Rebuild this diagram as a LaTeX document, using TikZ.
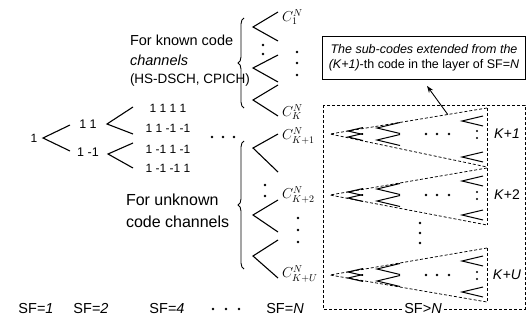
\documentclass[tikz,border=0pt]{standalone}
\usepackage{fontspec}
\setmainfont{Liberation Sans}
\usetikzlibrary{calc,decorations.pathreplacing,arrows.meta}
\newcommand\fs[1]{\fontsize{#1}{#1}\selectfont}
\tikzset{
  fk/.style={line width=1.1pt},
  dsh/.style={line width=0.75pt, dash pattern=on 3pt off 2pt},
  lbl/.style={inner sep=0pt, outer sep=0pt},
  brc/.style={line width=0.9pt, decorate, decoration={brace, amplitude=6pt}},
  vf/.pic={\draw[line width=1pt] (1,-1) -- (0,0) -- (1,1);},
}
\newcommand\subgrp[5]{%
  \coordinate (#1a) at (330,#2);
  \coordinate (#1t) at (487,#3);
  \coordinate (#1b) at (487,#4);
  \draw[dsh] (#1t) -- (#1a) -- (#1b);
  \pic[xscale=15,yscale=3.5] at (348,{#2-3}) {vf};
  \pic[xscale=15,yscale=3.5] at (348,{#2+3}) {vf};
  \pic[xscale=23,yscale=5.5] at (377,{#2-6}) {vf};
  \pic[xscale=23,yscale=5.5] at (377,{#2+6}) {vf};
  \foreach \dx in {426,437,449} \fill (\dx,#2) circle (1.3pt);
  \pic[xscale=21,yscale=5] at (462,{#3+13}) {vf};
  \pic[xscale=21,yscale=5] at (462,{#4-10}) {vf};
  \fill (477,{#2-3}) circle (1.1pt) (477,{#2+4}) circle (1.1pt);
  \node[lbl, font=\fs{14}] (#1l) at (507,#2) {#5};
}
\begin{document}
\begin{tikzpicture}[x=1pt,y=-1pt]
\useasboundingbox (0,0) rectangle (529,321);

% ---- root tree ----
\node[lbl, font=\fs{12}] (r) at (34,138) {1};
\coordinate (a0) at (43,138);
\coordinate (a0u) at (70,125);
\coordinate (a0d) at (70,151);
\draw[fk] (a0u) -- (a0) -- (a0d);
\node[lbl, font=\fs{12.5}] (n11) at (88,124) {1 1};
\node[lbl, font=\fs{12.5}] (n12) at (88,152) {1 -1};
\coordinate (a1) at (107,124);
\coordinate (a1u) at (133,107);
\coordinate (a1d) at (133,134);
\draw[fk] (a1u) -- (a1) -- (a1d);
\coordinate (a2) at (108,154);
\coordinate (a2u) at (133,143);
\coordinate (a2d) at (133,168);
\draw[fk] (a2u) -- (a2) -- (a2d);
\node[lbl, font=\fs{12}] (t1) at (168,108) {1 1 1 1};
\node[lbl, font=\fs{12}] (t2) at (168,128) {1 1 -1 -1};
\node[lbl, font=\fs{12}] (t3) at (168,149) {1 -1 1 -1};
\node[lbl, font=\fs{12}] (t4) at (168,168) {1 -1 -1 1};
\foreach \dx in {212,223,234} \fill (\dx,137) circle (1.3pt);

% ---- known code channels ----
\node[lbl, anchor=west, font=\fs{14.5}] (kt1) at (130,40) {For known code};
\node[lbl, anchor=west, font=\fs{14.5}] (kt2) at (130,60) {\textit{channels}};
\node[lbl, anchor=west, font=\fs{13.5}] (kt3) at (130,80) {(HS-DSCH, CPICH)};
\coordinate (kbt) at (244,18);
\coordinate (kbb) at (244,108);
\draw[brc] (kbb) -- (kbt);
\coordinate (k1) at (253,27);  \coordinate (k1u) at (278,12);  \coordinate (k1d) at (278,41);
\coordinate (k2) at (253,68);  \coordinate (k2u) at (278,55);  \coordinate (k2d) at (278,82);
\coordinate (k3) at (253,100); \coordinate (k3u) at (278,85);  \coordinate (k3d) at (278,116);
\draw[fk] (k1u) -- (k1) -- (k1d);
\draw[fk] (k2u) -- (k2) -- (k2d);
\draw[fk] (k3u) -- (k3) -- (k3d);
\fill (263,45) circle (1.3pt) (263,54) circle (1.3pt);
\fill (297,52) circle (1.3pt) (297,63) circle (1.3pt) (297,75) circle (1.3pt);
\node[lbl, anchor=west, font=\fs{14.5}] (c1) at (282,17) {$C_{1}^{N}$};
\node[lbl, anchor=west, font=\fs{14.5}] (ck) at (282,112) {$C_{K}^{N}$};

% ---- unknown code channels ----
\node[lbl, anchor=west, font=\fs{16}] (ut1) at (126,200) {For unknown};
\node[lbl, anchor=west, font=\fs{16}] (ut2) at (126,222) {code channels};
\coordinate (ubt) at (244,141);
\coordinate (ubb) at (244,269);
\draw[brc] (ubb) -- (ubt);
\coordinate (u1) at (253,148); \coordinate (u1u) at (278,134); \coordinate (u1d) at (278,172);
\coordinate (u2) at (253,215); \coordinate (u2u) at (278,200); \coordinate (u2d) at (278,232);
\coordinate (u3) at (253,256); \coordinate (u3u) at (278,240); \coordinate (u3d) at (278,278);
\draw[fk] (u1u) -- (u1) -- (u1d);
\draw[fk] (u2u) -- (u2) -- (u2d);
\draw[fk] (u3u) -- (u3) -- (u3d);
\fill (265,185) circle (1.3pt) (265,196) circle (1.3pt);
\fill (298,218) circle (1.3pt) (298,230) circle (1.3pt) (298,242) circle (1.3pt);
\node[lbl, anchor=west, font=\fs{14.5}] (ck1) at (282,136) {$C_{K+1}^{N}$};
\node[lbl, anchor=west, font=\fs{14.5}] (ck2) at (282,195) {$C_{K+2}^{N}$};
\node[lbl, anchor=west, font=\fs{14.5}] (cku) at (282,274) {$C_{K+U}^{N}$};

% ---- SF > N region ----
\coordinate (ob1) at (323,105);
\coordinate (ob2) at (525,309);
\draw[dsh] (ob1) rectangle (ob2);
\subgrp{G1}{134}{108}{167}{\textit{K}+\textit{1}}
\subgrp{G2}{195}{168}{225}{\textit{K}+2}
\subgrp{GU}{275}{248}{302}{\textit{K}+\textit{U}}
\draw[dsh] (G1t) -- (G2b);
\draw[dsh] (GUt) -- (GUb);
\fill (420,223) circle (1.3pt) (420,233) circle (1.3pt) (420,243) circle (1.3pt);

% ---- callout ----
\node[draw, line width=0.8pt, align=center, font=\fs{12.5}, minimum width=203pt, minimum height=43pt, inner sep=2pt] (call) at (424,58)
  {\textit{The sub-codes extended from the}\\[3pt]\textit{(K+1)}-th code in the layer of SF=\textit{N}};
\coordinate (tail) at ($(G1a)!0.75!(G1t)$);
\coordinate (tip) at ($(call.south)+(3,6)$);
\draw[line width=0.9pt, -{Stealth[length=7pt,width=5pt]}] (tail) -- (tip);

% ---- SF row ----
\node[lbl, font=\fs{14.5}] (sf1) at (36,309) {SF=\textit{1}};
\node[lbl, font=\fs{14.5}] (sf2) at (91,309) {SF=\textit{2}};
\node[lbl, font=\fs{14.5}] (sf4) at (167,309) {SF=\textit{4}};
\foreach \dx in {213,226,239} \fill (\dx,309) circle (1.3pt);
\node[lbl, font=\fs{14.5}] (sfn) at (285,309) {SF=\textit{N}};
\node[lbl, font=\fs{14.5}, fill=white, inner xsep=2pt, inner ysep=1pt] (sfg) at (423,309) {SF>\textit{N}};
\end{tikzpicture}
\end{document}
